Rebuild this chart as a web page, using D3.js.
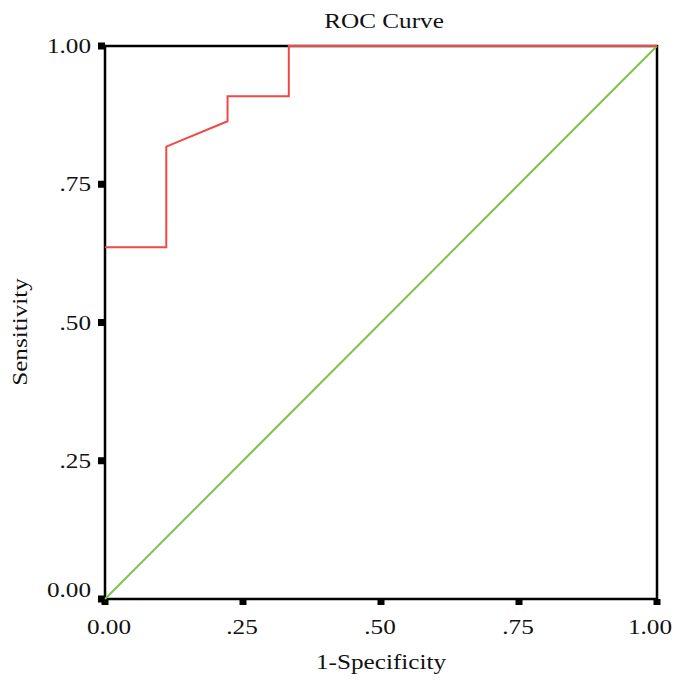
<!DOCTYPE html>
<html>
<head>
<meta charset="utf-8">
<script src="https://cdn.jsdelivr.net/npm/d3@7"></script>
<style>
  body { margin: 0; background: #fff; }
  svg text { font-family: "Liberation Serif", "Times New Roman", serif; fill: #111; }
</style>
</head>
<body>
<div id="chart"></div>
<script>
// ROC curve points (1-specificity, sensitivity)
const fpr = [0, 0.111, 0.111, 0.222, 0.222, 0.333, 0.333, 1];
const tpr = [0.636, 0.636, 0.818, 0.864, 0.909, 0.909, 1, 1];
// reference line
const refX = [0, 1];
const refY = [0, 1];
const tickValues = [0, 0.25, 0.5, 0.75, 1];
const tickLabels = ["0.00", ".25", ".50", ".75", "1.00"];

const width = 675, height = 683;
const margin = { left: 105, right: 18, top: 46, bottom: 84 };
const stretch = 1.26; // the original type is set wide

const svg = d3.select("#chart").append("svg")
    .attr("width", width).attr("height", height);

const x = d3.scaleLinear().domain([0, 1]).range([margin.left, width - margin.right]);
const y = d3.scaleLinear().domain([0, 1]).range([height - margin.bottom, margin.top]);

function label(txt, px, py, anchor, rot) {
    svg.append("text")
        .attr("transform", `translate(${px},${py}) rotate(${rot || 0}) scale(${stretch},1)`)
        .attr("text-anchor", anchor).attr("font-size", 20)
        .text(txt);
}

// frame
svg.append("rect")
    .attr("x", x(0)).attr("y", y(1))
    .attr("width", x(1) - x(0)).attr("height", y(0) - y(1))
    .attr("fill", "none").attr("stroke", "#000").attr("stroke-width", 2.5);

// tick marks (little blocks)
svg.selectAll(".ytick").data(tickValues).enter().append("rect")
    .attr("x", x(0) - 7).attr("y", d => y(d) - 3.5)
    .attr("width", 7).attr("height", 7).attr("fill", "#000");
svg.selectAll(".xtick").data(tickValues).enter().append("rect")
    .attr("x", d => x(d) - 3.5).attr("y", y(0))
    .attr("width", 7).attr("height", 6).attr("fill", "#000");

// tick labels
tickValues.forEach((d, i) => {
    label(tickLabels[i], x(0) - 14, d === 0 ? y(d) - 2 : y(d) + 7, "end");
    label(tickLabels[i], d === 0 ? x(d) + 4 : (d === 1 ? x(d) - 7 : x(d) - 1), y(0) + 35, "middle");
});

// reference diagonal
const line = d3.line().x(d => x(d[0])).y(d => y(d[1]));
svg.append("path")
    .attr("d", line(d3.zip(refX, refY)))
    .attr("fill", "none").attr("stroke", "#7cc44e").attr("stroke-width", 2);

// ROC curve
svg.append("path")
    .attr("d", line(d3.zip(fpr, tpr)))
    .attr("fill", "none").attr("stroke", "#f04a45").attr("stroke-width", 2);

// titles
label("ROC Curve", 384, 28, "middle");
label("1-Specificity", 381, 669, "middle");
label("Sensitivity", 27, 332, "middle", -90);
</script>
</body>
</html>
